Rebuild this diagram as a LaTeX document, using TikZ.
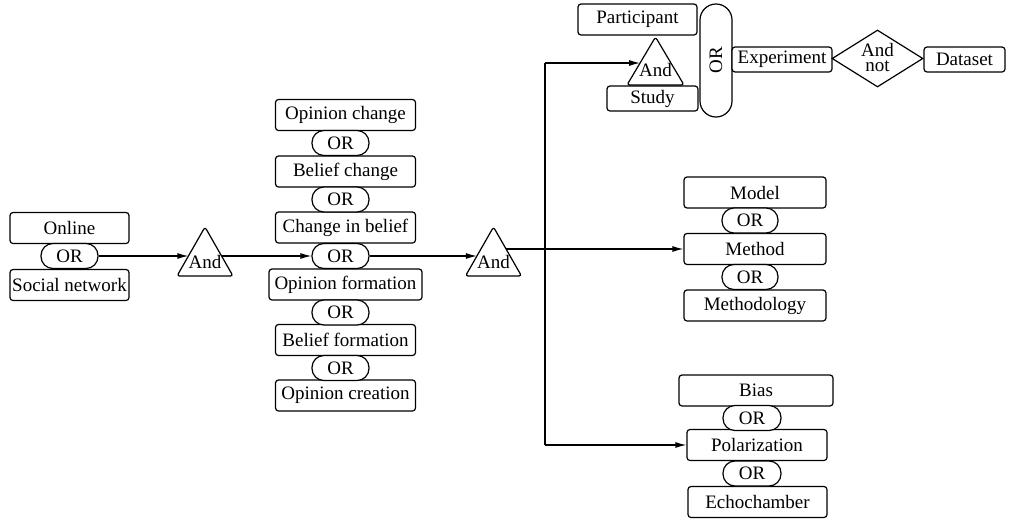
\documentclass[tikz,border=0pt]{standalone}
\usepackage{fontspec}
\setmainfont{Liberation Serif}
\usetikzlibrary{shapes.geometric,arrows.meta,calc}
\begin{document}
\begin{tikzpicture}[x=1pt,y=-1pt,
  every node/.style={font=\fontsize{19}{19}\selectfont, inner sep=0pt},
  box/.style={draw, rounded corners=3pt, minimum height=31pt, fill=white},
  sbox/.style={draw, rounded corners=3pt, minimum height=25pt, fill=white},
  orbox/.style={draw, rounded corners=12pt, minimum width=57pt, minimum height=25pt, fill=white},
  tri/.style={draw, rounded corners=2.5pt, line join=round},
  arr/.style={-{Latex[length=11pt,width=6pt]}},
  line width=1.2pt]
\useasboundingbox (0,0) rectangle (1009,520);

% left group
\node[box, minimum width=119pt] (online) at (69.5,228) {Online};
\node[box, minimum width=119pt] (social) at (69.5,285) {Social network};
\node[orbox] (or1) at (69.5,256) {OR};

\node (t1) at (205,262) {And};
\draw[tri] (205,227) -- (233,276) -- (177,276) -- cycle;

% middle column
\node[box, minimum width=140pt] (oc) at (345.5,115) {Opinion change};
\node[box, minimum width=140pt] (bc) at (345.5,171.5) {Belief change};
\node[box, minimum width=140pt] (cib) at (345.5,227.5) {Change in belief};
\node[box, minimum width=153pt] (of) at (345.5,284.5) {Opinion formation};
\node[box, minimum width=140pt] (bf) at (345.5,340) {Belief formation};
\node[box, minimum width=140pt] (ocr) at (345.5,395.5) {Opinion creation};
\node[orbox] (or2) at (340.5,143) {OR};
\node[orbox] (or3) at (340.5,199.5) {OR};
\node[orbox] (or4) at (340.5,256) {OR};
\node[orbox] (or5) at (340.5,312.5) {OR};
\node[orbox] (or6) at (340.5,368) {OR};

\node (t2) at (493.5,262) {And};
\draw[tri] (493.5,227) -- (521.5,276) -- (465.5,276) -- cycle;

% method group
\node[box, minimum width=142pt] (model) at (755,192.5) {Model};
\node[box, minimum width=142pt] (meth) at (755,249) {Method};
\node[box, minimum width=142pt] (methy) at (755,305.5) {Methodology};
\node[orbox, minimum width=56pt] (or7) at (750,220.5) {OR};
\node[orbox, minimum width=56pt] (or8) at (750,277) {OR};

% bias group
\node[box, minimum width=154pt] (bias) at (756,390.5) {Bias};
\node[box, minimum width=140pt] (polar) at (757,445) {Polarization};
\node[box, minimum width=139pt] (echo) at (757.5,502) {Echochamber};
\node[orbox, minimum width=58pt] (or9) at (752,418) {OR};
\node[orbox, minimum width=58pt] (or10) at (752,473.5) {OR};

% top group
\node[box, minimum width=119pt] (part) at (637.5,19.5) {Participant};
\node[sbox, minimum width=91pt] (study) at (652.5,98.5) {Study};
\node (t3) at (655.5,70) {And};
\draw[tri] (655.5,37) -- (684,85) -- (627,85) -- cycle;
\node[draw, rounded corners=16pt, minimum width=32pt, minimum height=113pt, fill=white] (orv) at (716,60.5) {\rotatebox{90}{OR}};
\node[sbox, minimum width=100pt] (exp) at (782,59.5) {Experiment};
\node[draw, diamond, minimum width=91pt, minimum height=57pt] (dia) at (877.5,58.5) {};
\node[align=center, font=\fontsize{19}{15.5}\selectfont] (diat) at (877.5,57.5) {And\\not};
\node[sbox, minimum width=81pt] (data) at (964.5,59.5) {Dataset};

% connectors
\coordinate (t1in) at (188.4,256);
\coordinate (t1out) at (221.6,256);
\coordinate (t2in) at (476.9,256);
\coordinate (t2out) at (506.1,249);
\coordinate (t3in) at (640.1,63);
\draw[arr] (or1.east) -- (or1.east -| t1in);
\draw[arr] (or4.west -| t1out) -- (or4.west);
\draw[arr] (or4.east) -- (or4.east -| t2in);
\draw[arr] (meth.west -| t2out) -- (meth.west);

\coordinate (jt) at (545,63);
\draw (jt) -- (polar.west -| jt);
\draw[arr] (jt) -- (t3in);
\draw[arr] (polar.west -| jt) -- (polar.west);
\end{tikzpicture}
\end{document}
